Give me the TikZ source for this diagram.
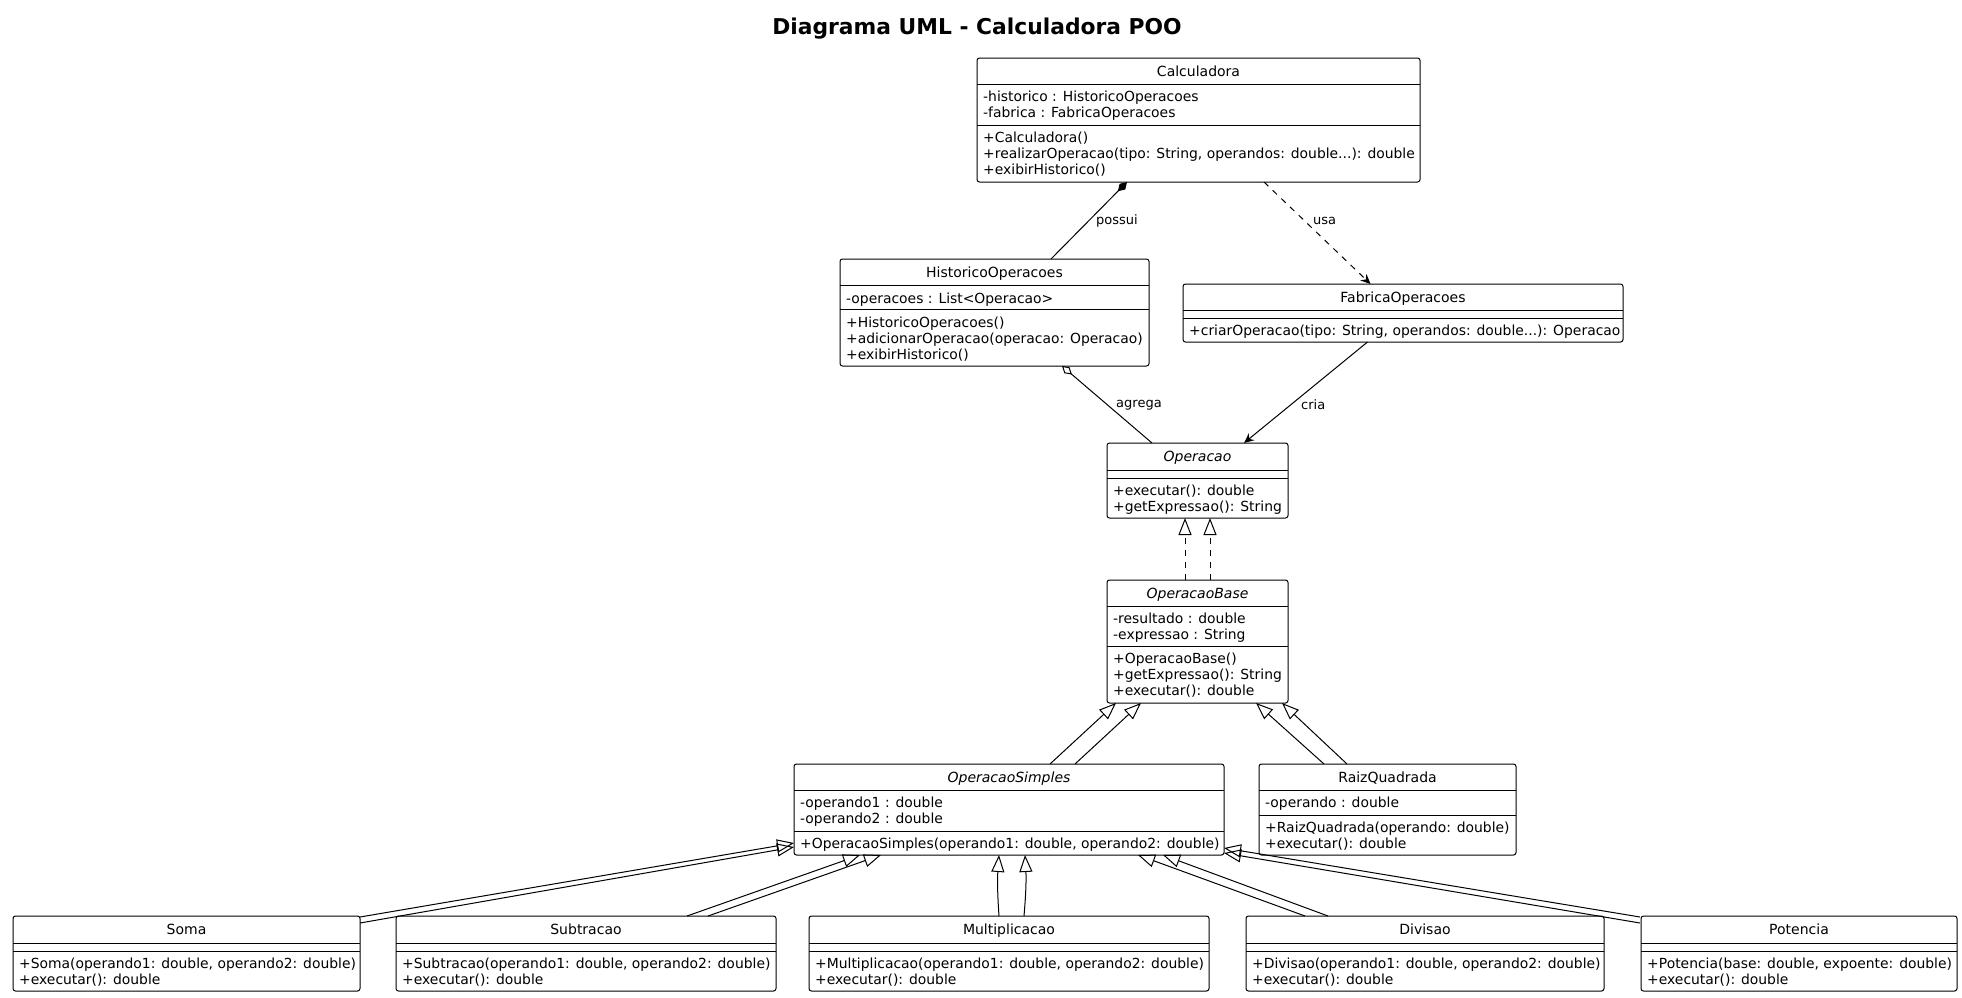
\documentclass[tikz,border=0pt]{standalone}
\usepackage{fontspec}
\setmainfont{DejaVu Sans}
\usetikzlibrary{arrows.meta,calc}
\tikzset{
  cbox/.style={draw, line width=1pt, rounded corners=2.5pt, inner sep=0pt, outer sep=0pt, anchor=north west},
  hdr/.style={font=\fontsize{14}{16}\selectfont, anchor=base, inner sep=0pt},
  hdri/.style={font=\fontsize{14}{16}\selectfont\itshape, anchor=base, inner sep=0pt},
  mem/.style={font=\fontsize{13.9}{16}\selectfont, anchor=base west, inner sep=0pt},
  lbl/.style={font=\fontsize{13}{15}\selectfont, anchor=west, inner sep=0pt},
  sepline/.style={line width=1pt},
  ext/.style={line width=1pt, -{Triangle[open, length=17pt, width=13pt]}},
  realz/.style={line width=1pt, dash pattern=on 6pt off 6pt, -{Triangle[open, length=17pt, width=13pt]}},
  dep/.style={line width=1pt, dash pattern=on 6pt off 6pt, -{Stealth[length=10pt, width=9pt, inset=3.5pt]}},
  assoc/.style={line width=1pt, -{Stealth[length=10pt, width=9pt, inset=3.5pt]}},
  comp/.style={line width=1pt, {Diamond[length=13pt, width=8pt]}-},
  aggr/.style={line width=1pt, {Diamond[open, length=13pt, width=8pt]}-},
}
\newcommand\threedots{.{}.{}.}
\newcommand\classbox[5]{\node[cbox, minimum width=#4pt, minimum height=#5pt] (#1) at (#2,#3) {};}
\newcommand\hsep[2]{\draw[sepline] ($(#1.north west)+(0,#2)$) -- ($(#1.north east)+(0,#2)$);}
\newcommand\members[4]{\foreach \mtext [count=\i from 0] in {#4}{\node[mem] (#1-#2\i) at ($(#1.north west)+(6,#3+17.5+16.2*\i)$) {\mtext};}}
\begin{document}
\begin{tikzpicture}[x=1pt,y=-1pt]
\useasboundingbox[fill=white] (0,0) rectangle (1962,997);

\node[font=\fontsize{21.8}{26}\selectfont\bfseries, anchor=base, inner sep=0pt] (title) at (977,34) {Diagrama UML - Calculadora POO};

% Calculadora
\classbox{calc}{977}{58}{443}{124}
\hsep{calc}{26}\hsep{calc}{67}
\node[hdr] (calc-h) at ($(calc.north)+(0,18)$) {Calculadora};
\members{calc}{a}{26}{-historico : HistoricoOperacoes, -fabrica : FabricaOperacoes}
\members{calc}{m}{67}{+Calculadora(), {+realizarOperacao(tipo: String, operandos: double\threedots): double}, +exibirHistorico()}

% HistoricoOperacoes
\classbox{hist}{840}{259}{309}{107}
\hsep{hist}{26.5}\hsep{hist}{50.5}
\node[hdr] (hist-h) at ($(hist.north)+(0,18.5)$) {HistoricoOperacoes};
\members{hist}{a}{26.5}{-operacoes : List<Operacao>}
\members{hist}{m}{50.5}{+HistoricoOperacoes(), +adicionarOperacao(operacao: Operacao), +exibirHistorico()}

% FabricaOperacoes
\classbox{fab}{1183}{284}{440}{58}
\hsep{fab}{26}\hsep{fab}{34}
\node[hdr] (fab-h) at ($(fab.north)+(0,18)$) {FabricaOperacoes};
\members{fab}{m}{34}{{+criarOperacao(tipo: String, operandos: double\threedots): Operacao}}

% Operacao
\classbox{op}{1107}{443}{181}{75}
\hsep{op}{27}\hsep{op}{35}
\node[hdri] (op-h) at ($(op.north)+(0,18.5)$) {Operacao};
\members{op}{m}{35}{+executar(): double, +getExpressao(): String}

% OperacaoBase
\classbox{ob}{1107}{580}{181}{123}
\hsep{ob}{26}\hsep{ob}{66}
\node[hdri] (ob-h) at ($(ob.north)+(0,18)$) {OperacaoBase};
\members{ob}{a}{26}{-resultado : double, -expressao : String}
\members{ob}{m}{66}{+OperacaoBase(), +getExpressao(): String, +executar(): double}

% OperacaoSimples
\classbox{os}{794}{764}{430}{91}
\hsep{os}{26}\hsep{os}{67}
\node[hdri] (os-h) at ($(os.north)+(0,18)$) {OperacaoSimples};
\members{os}{a}{26}{-operando1 : double, -operando2 : double}
\members{os}{m}{67}{{+OperacaoSimples(operando1: double, operando2: double)}}

% RaizQuadrada
\classbox{raiz}{1259}{764}{257}{91}
\hsep{raiz}{26}\hsep{raiz}{51}
\node[hdr] (raiz-h) at ($(raiz.north)+(0,18)$) {RaizQuadrada};
\members{raiz}{a}{26}{-operando : double}
\members{raiz}{m}{51}{+RaizQuadrada(operando: double), +executar(): double}

% bottom row
\classbox{soma}{13}{916}{347}{75}
\hsep{soma}{27}\hsep{soma}{35}
\node[hdr] (soma-h) at ($(soma.north)+(0,18.5)$) {Soma};
\members{soma}{m}{35}{{+Soma(operando1: double, operando2: double)}, +executar(): double}

\classbox{sub}{396}{916}{380}{75}
\hsep{sub}{27}\hsep{sub}{35}
\node[hdr] (sub-h) at ($(sub.north)+(0,18.5)$) {Subtracao};
\members{sub}{m}{35}{{+Subtracao(operando1: double, operando2: double)}, +executar(): double}

\classbox{mult}{809}{916}{400}{75}
\hsep{mult}{27}\hsep{mult}{35}
\node[hdr] (mult-h) at ($(mult.north)+(0,18.5)$) {Multiplicacao};
\members{mult}{m}{35}{{+Multiplicacao(operando1: double, operando2: double)}, +executar(): double}

\classbox{div}{1246}{916}{358}{75}
\hsep{div}{27}\hsep{div}{35}
\node[hdr] (div-h) at ($(div.north)+(0,18.5)$) {Divisao};
\members{div}{m}{35}{{+Divisao(operando1: double, operando2: double)}, +executar(): double}

\classbox{pot}{1641}{916}{316}{75}
\hsep{pot}{27}\hsep{pot}{35}
\node[hdr] (pot-h) at ($(pot.north)+(0,18.5)$) {Potencia};
\members{pot}{m}{35}{{+Potencia(base: double, expoente: double)}, +executar(): double}

% connectors
\draw[comp] ($(calc.south west)+(150,0)$) -- ($(hist.north west)+(211,0)$);
\node[lbl] (l-possui) at (1096,221) {possui};
\draw[dep] ($(calc.south west)+(287,0)$) -- ($(fab.north west)+(187.5,0)$);
\node[lbl] (l-usa) at (1313,221) {usa};
\draw[aggr] ($(hist.south west)+(222,0)$) -- ($(op.north west)+(45,0)$);
\node[lbl] (l-agrega) at (1116,405) {agrega};
\draw[assoc] ($(fab.south west)+(184.5,0)$) -- ($(op.north west)+(137,0)$);
\node[lbl] (l-cria) at (1301,405) {cria};

\draw[realz] ($(ob.north west)+(78,0)$) -- ($(op.south west)+(78,0)$);
\draw[realz] ($(ob.north west)+(103,0)$) -- ($(op.south west)+(103,0)$);

\draw[ext] ($(os.north west)+(256,0)$) -- ($(ob.south west)+(9,0)$);
\draw[ext] ($(os.north west)+(281,0)$) -- ($(ob.south west)+(34,0)$);
\draw[ext] ($(raiz.north west)+(65,0)$) -- ($(ob.south west)+(149,0)$);
\draw[ext] ($(raiz.north west)+(88,0)$) -- ($(ob.south west)+(175,0)$);

\draw[ext] ($(soma.north east)+(0,1)$) -- ($(os.north west)+(0,79)$);
\draw[ext] ($(soma.north east)+(0,7)$) -- ($(os.north west)+(0,83)$);
\draw[ext] ($(sub.north west)+(291,0)$) -- ($(os.south west)+(66,0)$);
\draw[ext] ($(sub.north west)+(312,0)$) -- ($(os.south west)+(87,0)$);
\draw[ext] ($(mult.north west)+(190,0)$) to[bend left=4] ($(os.south west)+(205,0)$);
\draw[ext] ($(mult.north west)+(215,0)$) to[bend right=4] ($(os.south west)+(231,0)$);
\draw[ext] ($(div.north west)+(59,0)$) -- ($(os.south west)+(344,0)$);
\draw[ext] ($(div.north west)+(82,0)$) -- ($(os.south west)+(369,0)$);
\draw[ext] ($(pot.north west)+(-1,1)$) -- ($(os.north east)+(0,84)$);
\draw[ext] ($(pot.north west)+(-1,7)$) -- ($(os.north east)+(0,89)$);
\end{tikzpicture}
\end{document}
